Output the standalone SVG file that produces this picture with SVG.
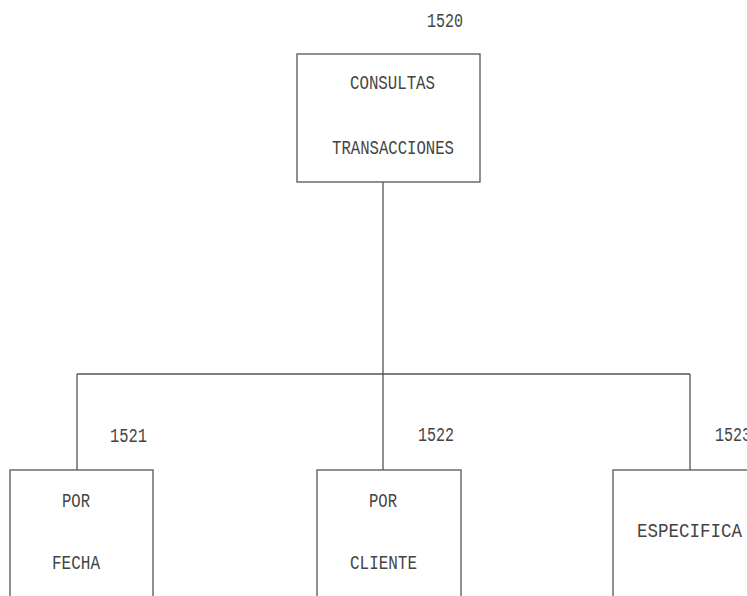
<svg xmlns="http://www.w3.org/2000/svg" width="747" height="596" viewBox="0 0 747 596">
<style>
.box{fill:none;stroke:#555;stroke-width:1.3}
.ln{fill:none;stroke:#555;stroke-width:1.3}
text{font-family:"Liberation Mono","DejaVu Sans Mono",monospace;font-size:20px;fill:#444}
</style>
<rect width="747" height="596" fill="#fff"/>
<g id="connectors">
<path class="ln" d="M383,182 V374 M77,374 H690 M77,374 V470 M383,374 V470 M690,374 V470"/>
</g>
<g id="n1520">
<text x="427" y="27" textLength="36" lengthAdjust="spacingAndGlyphs">1520</text>
<rect class="box" x="297" y="54" width="183" height="128"/>
<text x="350" y="89" textLength="85" lengthAdjust="spacingAndGlyphs">CONSULTAS</text>
<text x="332" y="154" textLength="122" lengthAdjust="spacingAndGlyphs">TRANSACCIONES</text>
</g>
<g id="n1521">
<text x="110" y="442" textLength="37" lengthAdjust="spacingAndGlyphs">1521</text>
<rect class="box" x="10" y="470" width="143" height="200"/>
<text x="62" y="507" textLength="28" lengthAdjust="spacingAndGlyphs">POR</text>
<text x="52" y="569" textLength="48" lengthAdjust="spacingAndGlyphs">FECHA</text>
</g>
<g id="n1522">
<text x="418" y="441" textLength="36" lengthAdjust="spacingAndGlyphs">1522</text>
<rect class="box" x="317" y="470" width="144" height="200"/>
<text x="369" y="507" textLength="28" lengthAdjust="spacingAndGlyphs">POR</text>
<text x="350" y="569" textLength="67" lengthAdjust="spacingAndGlyphs">CLIENTE</text>
</g>
<g id="n1523">
<text x="715" y="441" textLength="36" lengthAdjust="spacingAndGlyphs">1523</text>
<rect class="box" x="613" y="470" width="160" height="200"/>
<text x="637" y="537" textLength="105" lengthAdjust="spacingAndGlyphs">ESPECIFICA</text>
</g>
</svg>
